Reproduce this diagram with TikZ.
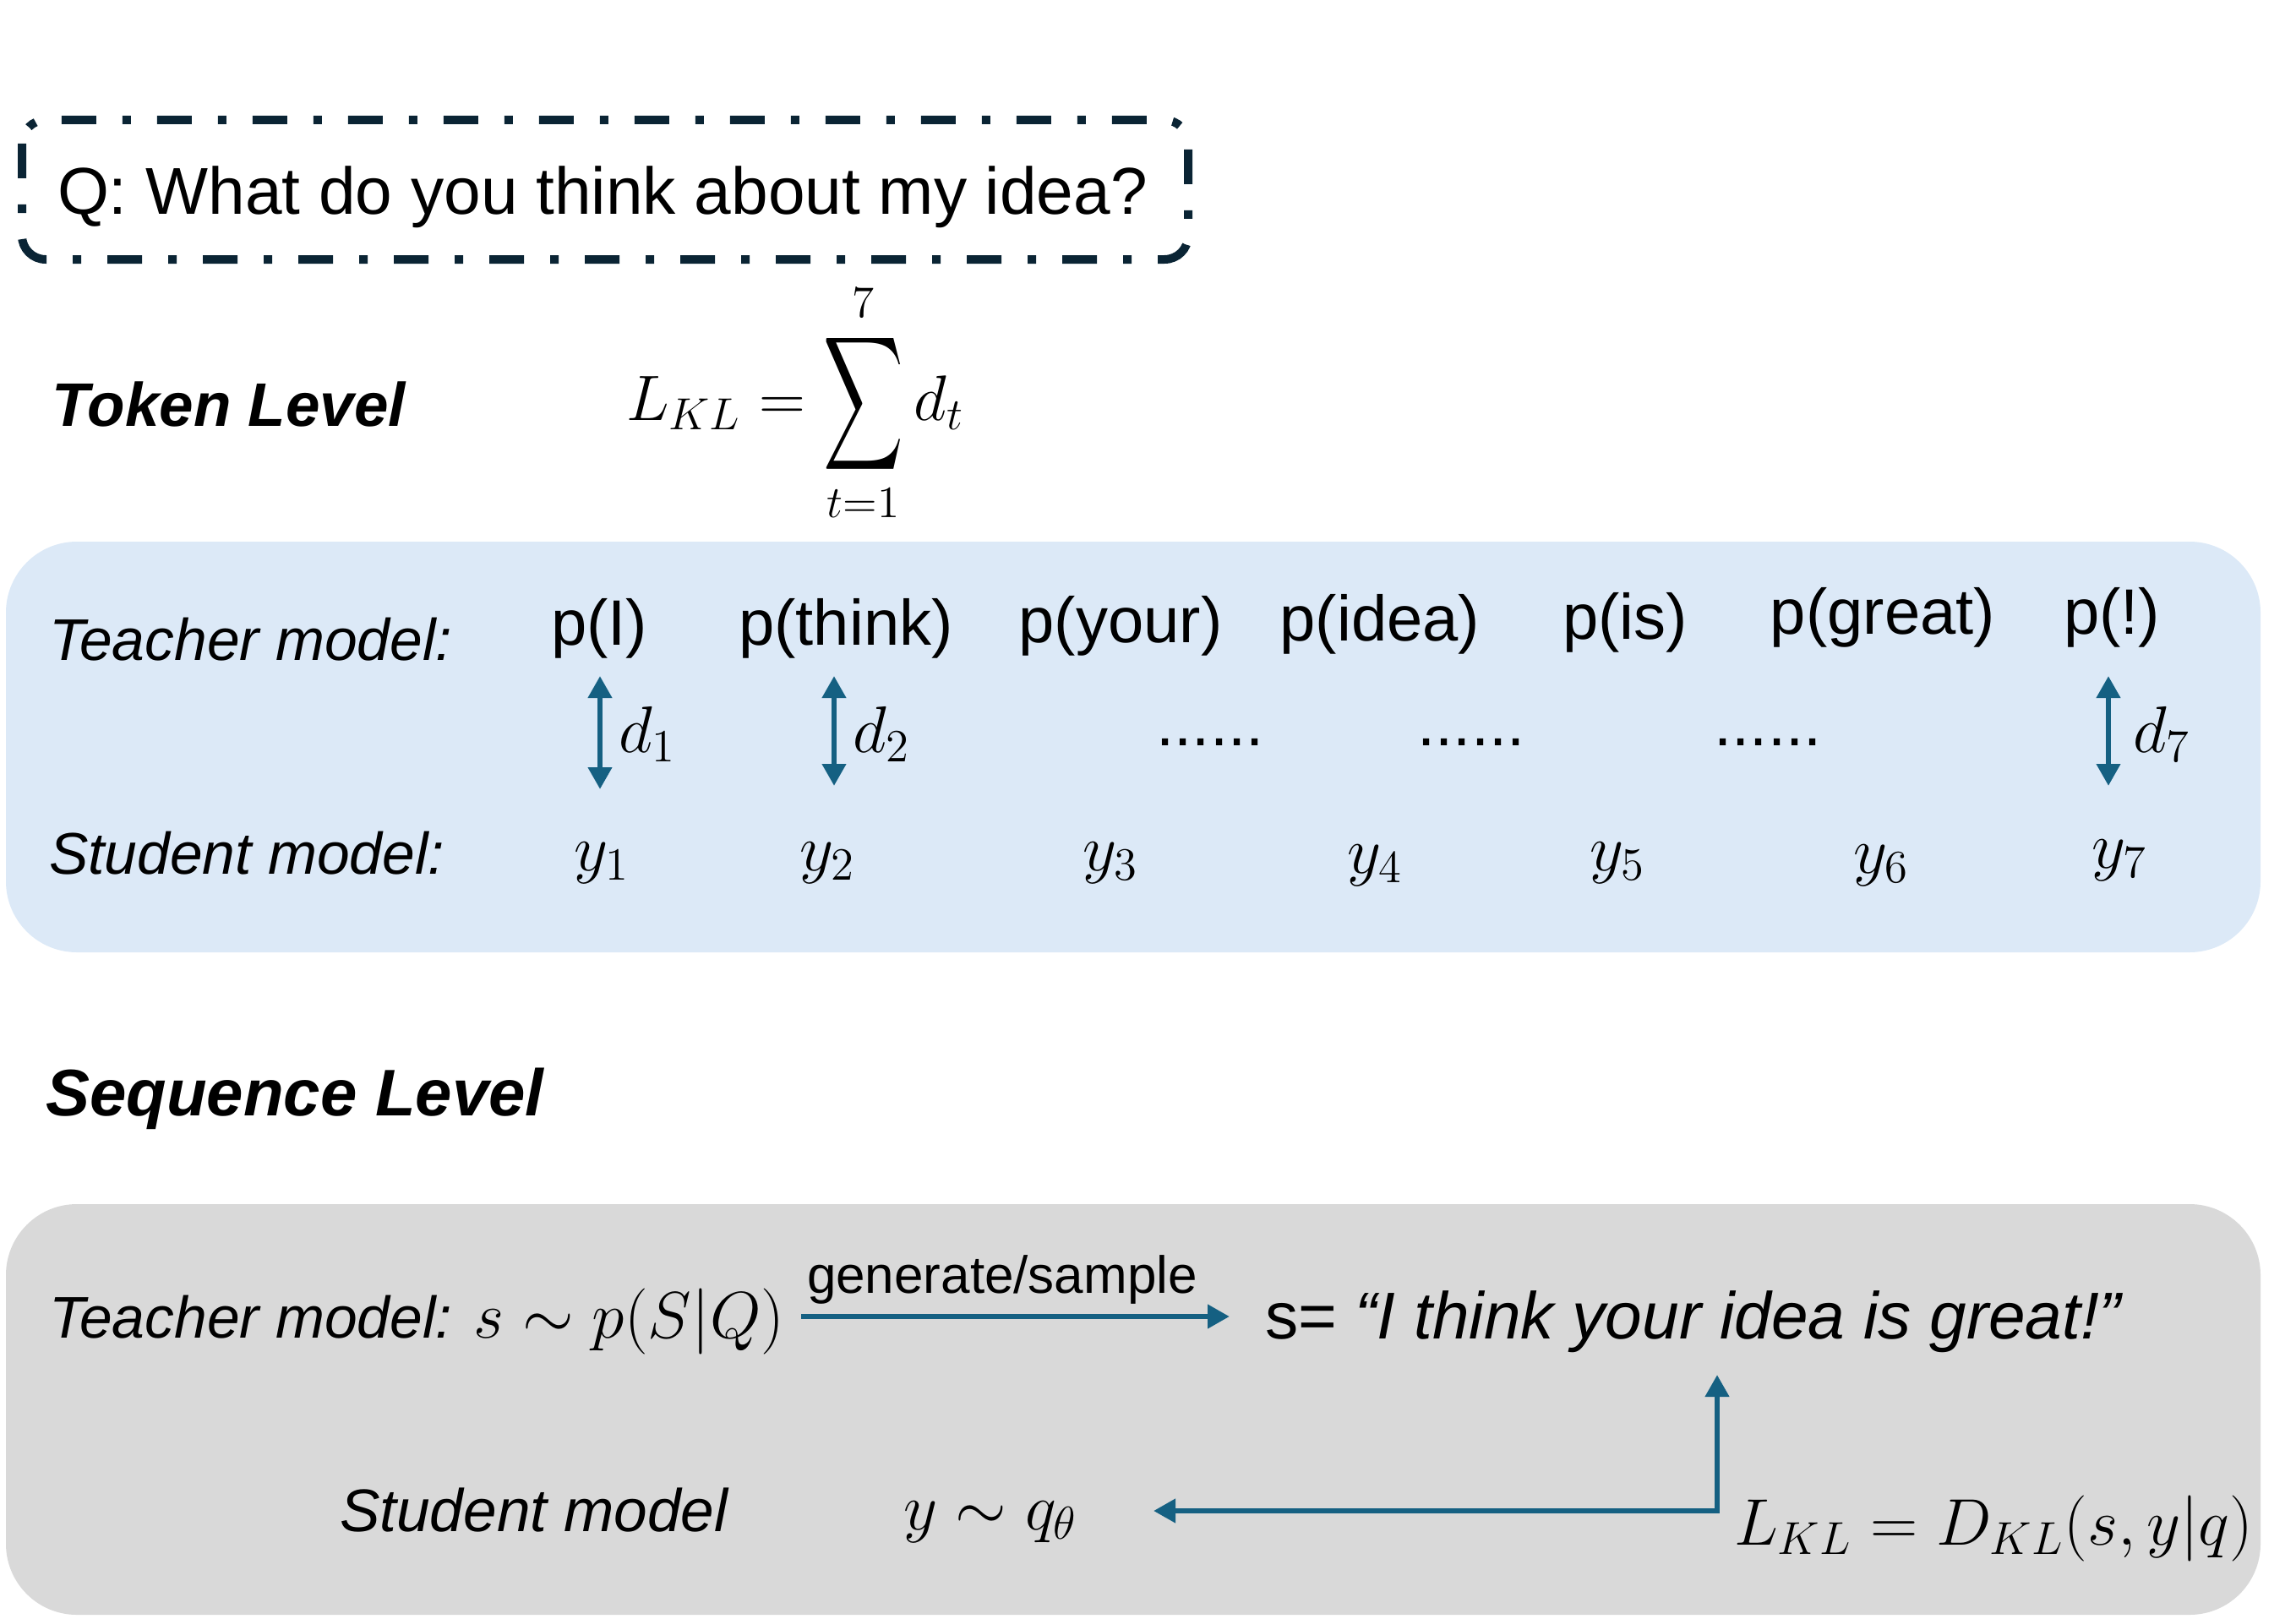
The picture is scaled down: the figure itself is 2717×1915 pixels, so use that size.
\RequirePackage{fix-cm}
\documentclass[tikz,border=0pt]{standalone}
\usepackage{amsmath}
\usepackage{fontspec}
\setmainfont{Liberation Sans}
\usepackage{graphicx}
\usetikzlibrary{arrows.meta}
\definecolor{accent}{RGB}{21,96,130}
\definecolor{navy}{RGB}{10,36,52}
\definecolor{lblue}{RGB}{220,233,247}
\definecolor{lgray}{RGB}{217,217,217}
\newcommand{\fsz}[1]{\fontsize{#1}{#1}\selectfont}
\newcommand{\bigsum}{\mathop{\vcenter{\hbox{\scalebox{0.95}[1.6]{$\displaystyle\sum$}}}}\limits}
\begin{document}
\begin{tikzpicture}[x=0.25pt,y=-0.25pt,
  txt/.style={inner sep=0pt, outer sep=0pt, anchor=base west},
  ctr/.style={inner sep=0pt, outer sep=0pt, anchor=base},
  tokfont/.style={font=\fsz{19}},
  modfont/.style={font=\fsz{17.4}\itshape},
  mathfont/.style={font=\fsz{19.5}},
  arr/.style={draw=accent, line width=1.6pt, -{Triangle[length=6.5pt,width=6.8pt]}},
  darr/.style={draw=accent, line width=1.6pt, {Triangle[length=6.5pt,width=6.8pt]}-{Triangle[length=6.5pt,width=6.8pt]}}]
\useasboundingbox (0,0) rectangle (2717,1915);

% question box
\draw[navy, line width=2.5pt, dash pattern=on 10.25pt off 7.75pt on 2.5pt off 7.75pt, rounded corners=7pt]
  (26,142) rectangle (1406,307);
\node[txt, font=\fsz{19.6}] (q) at (68,253) {Q: What do you think about my idea?};

% token level
\node[txt, font=\fsz{18.2}\bfseries\itshape] (tok) at (62,504) {Token Level};
\node[txt, font=\fsz{19}] (lkl) at (741,497) {$L_{KL}=\bigsum_{t=1}^{7} d_t$};

\fill[lblue, rounded corners=21pt] (7,641) rectangle (2675,1127);

\node[txt, modfont] (tm) at (58,781) {Teacher model:};
\node[ctr, tokfont] (p1) at (709,763) {p(I)};
\node[ctr, tokfont] (p2) at (1001,763) {p(think)};
\node[ctr, tokfont] (p3) at (1326,760) {p(your)};
\node[ctr, tokfont] (p4) at (1633,758) {p(idea)};
\node[ctr, tokfont] (p5) at (1923,756) {p(is)};
\node[ctr, tokfont] (p6) at (2228,750) {p(great)};
\node[ctr, tokfont] (p7) at (2499,750) {p(!)};

\coordinate (a1t) at (710,800);  \coordinate (a1b) at (710,934);
\coordinate (a2t) at (987,800);  \coordinate (a2b) at (987,930);
\coordinate (a7t) at (2495,800); \coordinate (a7b) at (2495,930);
\draw[darr] (a1t) -- (a1b);
\draw[darr] (a2t) -- (a2b);
\draw[darr] (a7t) -- (a7b);
\node[txt, mathfont] (d1) at (732,890) {$d_1$};
\node[txt, mathfont] (d2) at (1009,890) {$d_2$};
\node[txt, mathfont] (d7) at (2524,890) {$d_7$};

\node[ctr, tokfont] (dots1) at (1432,882) {......};
\node[ctr, tokfont] (dots2) at (1741,882) {......};
\node[ctr, tokfont] (dots3) at (2092,882) {......};

\node[txt, modfont] (sm) at (58,1034) {Student model:};
\node[txt, mathfont] (y1) at (679,1030) {$y_1$};
\node[txt, mathfont] (y2) at (946,1030) {$y_2$};
\node[txt, mathfont] (y3) at (1281,1030) {$y_3$};
\node[txt, mathfont] (y4) at (1594,1033) {$y_4$};
\node[txt, mathfont] (y5) at (1881,1030) {$y_5$};
\node[txt, mathfont] (y6) at (2193,1033) {$y_6$};
\node[txt, mathfont] (y7) at (2475,1027) {$y_7$};

% sequence level
\node[txt, font=\fsz{19.5}\bfseries\itshape] (seq) at (54,1320) {Sequence Level};

\fill[lgray, rounded corners=21pt] (7,1425) rectangle (2675,1911);

\node[txt, modfont] (tm2) at (58,1583) {Teacher model: {\fsz{19.5}\upshape$s\sim p(S|Q)$}};
\node[txt, font=\fsz{15.5}] (gen) at (955,1530) {generate/sample};
\coordinate (g1) at (948,1558); \coordinate (g2) at (1455,1558);
\draw[arr] (g1) -- (g2);
\node[txt, font=\fsz{19.6}] (sq) at (1497,1584) {s= \textit{“I think your idea is great!”}};

\node[txt, font=\fsz{17.8}\itshape] (sm2) at (402,1812) {Student model};
\node[txt, mathfont] (yq) at (1069,1810) {$y\sim q_\theta$};
\node[txt, mathfont] (leq) at (2052,1828) {$L_{KL}=D_{KL}(s,y|q)$};
\coordinate (k1) at (1365,1788); \coordinate (kc) at (2032,1788); \coordinate (k2) at (2032,1627);
\draw[darr] (k1) -- (kc) -- (k2);
\end{tikzpicture}
\end{document}
